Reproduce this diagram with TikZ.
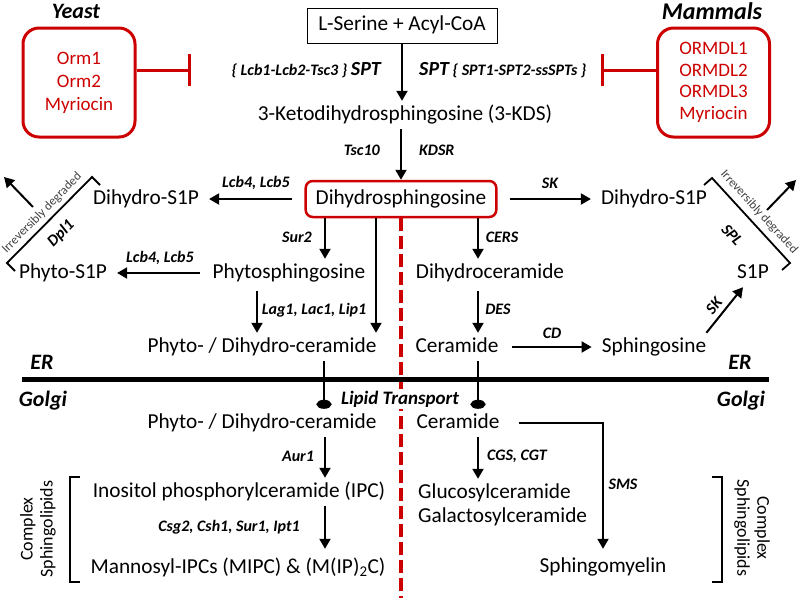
\documentclass[tikz,border=0pt]{standalone}
\usepackage{fontspec}
\setmainfont{Carlito}
\usetikzlibrary{arrows.meta}

\definecolor{inhred}{RGB}{204,0,0}

\tikzset{
  cmpd/.style={font=\fontsize{21.3}{24}\selectfont, inner xsep=10pt, inner ysep=5pt, text height=14pt, text depth=4pt},
  enz/.style={font=\fontsize{16}{18}\selectfont\bfseries\itshape, inner sep=1pt},
  loc/.style={font=\fontsize{22}{24}\selectfont\bfseries\itshape, inner sep=1pt},
  conv/.style={line width=2pt, -{Triangle[length=10pt,width=11pt]}},
  inhib/.style={draw=inhred, line width=3pt, -{Bar[width=32pt]}},
  regbox/.style={draw=inhred, line width=3pt, rounded corners=16pt, text=inhred, align=center, font=\fontsize{19}{21.7}\selectfont, minimum width=112pt, minimum height=109pt},
  brk/.style={line width=1.8pt},
  note/.style={font=\fontsize{12.5}{14}\selectfont, text=black!75, inner sep=0pt},
  cplx/.style={font=\fontsize{18}{20}\selectfont, align=center, inner sep=1pt}
}

\begin{document}
\begin{tikzpicture}[x=1pt,y=-1pt]
  \useasboundingbox (0,0) rectangle (800,598);

  % Organisms and their SPT inhibitors
  \node[loc] (yeast) at (76,11) {Yeast};
  \node[loc, font=\fontsize{24}{26}\selectfont\bfseries\itshape] (mammals) at (712,11) {Mammals};
  \node[regbox, font=\fontsize{19}{23}\selectfont] (ybox) at (79,82.5) {Orm1\\Orm2\\Myriocin};
  \node[regbox] (mbox) at (713.5,82.5) {ORMDL1\\ORMDL2\\ORMDL3\\Myriocin};
  \coordinate (barL) at (191,70);
  \coordinate (barR) at (601,70);
  \draw[inhib] (ybox.east |- barL) -- (barL);
  \draw[inhib] (mbox.west |- barR) -- (barR);

  % De novo synthesis down to dihydrosphingosine
  \node[draw, line width=1pt, cmpd, minimum width=190pt, minimum height=35pt] (ser) at (402,25.5) {L-Serine + Acyl-CoA};
  \node[cmpd] (kds) at (405,115) {3-Ketodihydrosphingosine (3-KDS)};
  \node[cmpd, draw=inhred, line width=2.5pt, rounded corners=7pt, minimum width=188pt, minimum height=36pt] (dhs) at (401,199) {Dihydrosphingosine};
  \draw[conv] (ser.south) -- (ser.south |- kds.north);
  \draw[conv] (dhs.north |- kds.south) -- (dhs.north);
  \node[enz, anchor=east] (sptY) at (382,70) {\{ Lcb1-Lcb2-Tsc3 \} {\fontsize{20}{22}\selectfont SPT}};
  \node[enz, anchor=west] (sptM) at (418,70) {{\fontsize{20}{22}\selectfont SPT} \{ SPT1-SPT2-ssSPTs \}};
  \node[enz, anchor=east] (tsc) at (381,150) {Tsc10};
  \node[enz, anchor=west] (kdsr) at (418,150) {KDSR};

  % Phosphorylation to the S1P's
  \node[cmpd] (dS1PL) at (146,199) {Dihydro-S1P};
  \node[cmpd] (dS1PR) at (654,199) {Dihydro-S1P};
  \draw[conv] ([xshift=-12pt]dhs.west) -- (dS1PL.east);
  \draw[conv] ([xshift=12pt]dhs.east) -- (dS1PR.west);
  \node[enz] (lcbA) at (256,183) {Lcb4, Lcb5};
  \node[enz] (skA) at (550,183) {SK};

  % ER branch, yeast side (left) and mammal side (right)
  \node[cmpd] (pS1P) at (63,273) {Phyto-S1P};
  \node[cmpd] (phs) at (289,273) {Phytosphingosine};
  \node[cmpd] (dhc) at (490,273) {Dihydroceramide};
  \node[cmpd] (s1p) at (753,273) {S1P};
  \node[cmpd] (pdcer) at (262,347) {Phyto- / Dihydro-ceramide};
  \node[cmpd] (cerer) at (457,347) {Ceramide};
  \node[cmpd] (sph) at (654,347) {Sphingosine};
  \draw[conv] ([xshift=-2pt]phs.west) -- (pS1P.east);
  \draw[conv] ([xshift=-76pt]dhs.south) -- ([xshift=36pt]phs.north);
  \draw[conv] ([xshift=-25pt]dhs.south) -- ([xshift=114pt]pdcer.north);
  \draw[conv, shorten <=4pt] ([xshift=-32pt]phs.south) -- ([xshift=-5pt]pdcer.north);
  \draw[conv] ([xshift=77pt]dhs.south) -- ([xshift=-12pt]dhc.north);
  \draw[conv, shorten <=4pt] ([xshift=-12pt]dhc.south) -- ([xshift=21pt]cerer.north);
  \draw[conv, shorten <=3pt] (cerer.east) -- (sph.west);
  \draw[conv] ([xshift=-10pt]sph.north east) -- ([xshift=-10pt]s1p.south);
  \node[enz] (lcbB) at (160,258) {Lcb4, Lcb5};
  \node[enz] (sur) at (297,237) {Sur2};
  \node[enz] (lag) at (314,310) {Lag1, Lac1, Lip1};
  \node[enz] (cers) at (502,237) {CERS};
  \node[enz] (des) at (498,309) {DES};
  \node[enz] (cd) at (552,333) {CD};
  \node[enz, rotate=51] (skB) at (714,306) {SK};

  % Irreversible degradation brackets
  \draw[brk] (100,185) -- (92,177) -- (7,263) -- (15,271);
  \node[note, rotate=45.5] (irrL) at (42,213) {Irreversibly degraded};
  \node[enz, rotate=45.5] (dpl) at (61,234) {Dpl1};
  \coordinate (degLa) at (33,207);
  \coordinate (degLb) at (4,177);
  \draw[conv] (degLa) -- (degLb);
  \draw[brk] (704,185) -- (712,178) -- (790,263) -- (782,270);
  \node[note, rotate=-47.5] (irrR) at (759,212) {Irreversibly degraded};
  \node[enz, rotate=-47.5] (spl) at (732,235) {SPL};
  \coordinate (degRa) at (767,210);
  \coordinate (degRb) at (796,180);
  \draw[conv] (degRa) -- (degRb);

  % Yeast / mammal divider and ER membrane
  \coordinate (dashEnd) at (401,598);
  \draw[inhred, line width=4.5pt, dash pattern=on 13pt off 5pt] (dhs.south) -- (dashEnd);
  \coordinate (erL) at (22,379);
  \coordinate (erR) at (769,379);
  \draw[line width=5pt] (erL) -- (erR);
  \foreach \x in {42,740} {
    \node[loc] (er\x) at (\x,362) {ER};
    \node[loc] (golgi\x) at (\x+1,401) {Golgi};
  }

  % Transport to the Golgi
  \node[cmpd] (pdcg) at (262,423) {Phyto- / Dihydro-ceramide};
  \node[cmpd] (cerg) at (458,423) {Ceramide};
  \node[enz, font=\fontsize{19}{21}\selectfont\bfseries\itshape, fill=white, inner sep=2pt] (lipid) at (400,399) {Lipid Transport};
  \draw[line width=2pt, -{Ellipse[length=9pt,width=15pt]}] ([xshift=62pt]pdcer.south) -- ([xshift=62pt]pdcg.north);
  \draw[line width=2pt, -{Ellipse[length=9pt,width=15pt]}] ([xshift=21pt]cerer.south) -- ([xshift=20pt]cerg.north);

  % Complex sphingolipids, yeast
  \node[cmpd] (ipc) at (239,492) {Inositol phosphorylceramide (IPC)};
  \node[cmpd] (mip) at (238,568) {Mannosyl-IPCs (MIPC) \& (M(IP)\textsubscript{2}C)};
  \draw[conv] ([xshift=63pt]pdcg.south) -- ([xshift=86pt]ipc.north);
  \draw[conv, shorten >=5pt] ([xshift=86pt]ipc.south) -- ([xshift=87pt]mip.north);
  \node[enz] (aur) at (298,456) {Aur1};
  \node[enz] (csg) at (229,527) {Csg2, Csh1, Sur1, Ipt1};

  % Complex sphingolipids, mammals
  \node[cmpd, anchor=west] (glc) at (408,493) {Glucosylceramide};
  \node[cmpd, anchor=west] (gal) at (408,517) {Galactosylceramide};
  \node[cmpd] (sm) at (603,567) {Sphingomyelin};
  \draw[conv] ([xshift=20pt]cerg.south) -- ([xshift=20pt]cerg.south |- glc.north);
  \draw[conv, shorten <=3pt, shorten >=4pt] ([xshift=6pt]cerg.east) -| (sm.north);
  \node[enz] (cgs) at (517,456) {CGS, CGT};
  \node[enz] (sms) at (623,484) {SMS};

  % Side brackets
  \draw[brk, line width=2pt] (80,477) -- (70,477) -- (70,582) -- (80,582);
  \node[cplx, rotate=90] (cplxL) at (38,529) {Complex\\Sphingolipids};
  \draw[brk, line width=2pt] (712,477) -- (722,477) -- (722,582) -- (712,582);
  \node[cplx, rotate=-90] (cplxR) at (752,528) {Complex\\Sphingolipids};
\end{tikzpicture}
\end{document}
